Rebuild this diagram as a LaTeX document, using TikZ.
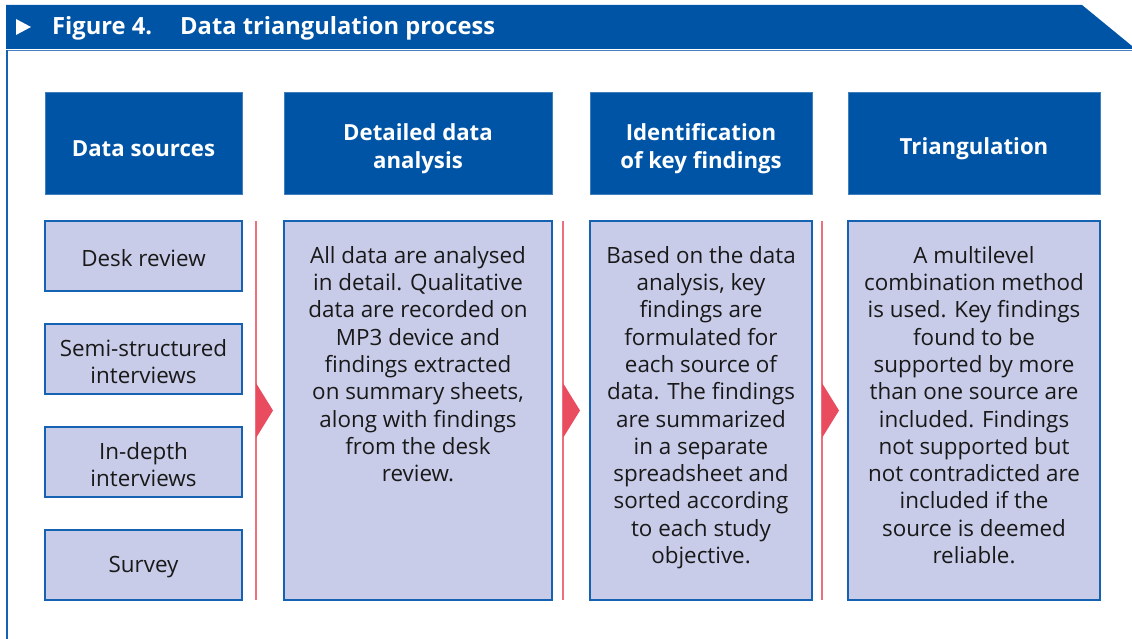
\documentclass[tikz,border=0pt]{standalone}
\usepackage{fontspec}
\setmainfont{Open Sans}
\usetikzlibrary{calc,positioning}
\definecolor{hdrblue}{RGB}{0,84,166}
\definecolor{lineblue}{RGB}{22,98,178}
\definecolor{boxfill}{RGB}{200,204,233}
\definecolor{stepred}{RGB}{232,76,94}

\begin{document}
\begin{tikzpicture}[
            x=1pt,
            y=-1pt,
            head/.style={fill=hdrblue, draw=hdrblue!75!white, line width=0.8pt, minimum height=102pt},
            headtext/.style={text=white, font=\fontsize{22.2}{28}\selectfont\bfseries, align=center, inner sep=0pt},
            box/.style={fill=boxfill, draw=lineblue, line width=1.6pt, inner sep=0pt},
            body/.style={font=\fontsize{22.4}{27.3}\selectfont, align=center, text=black!90, inner sep=0pt},
            title/.style={text=white, font=\fontsize{23.7}{26}\selectfont\bfseries, inner sep=0pt},
            divider/.style={draw=stepred!80!white, line width=1.2pt},
            marker/.style={fill=stepred},
        ]
        \useasboundingbox (0,0) rectangle (1132,639);
        % title band and frame
        \fill[hdrblue] (6,5) -- (1082,5) -- (1132,46) -- (1132,49) -- (6,49) -- cycle;
        \draw[lineblue!80!white, line width=1.5pt] (6,50.5) -- (1132,50.5);
        \draw[lineblue, line width=2pt] (7,50) -- (7,639);
        \fill[white] (16,19) -- (31,27) -- (16,35) -- cycle;
        \node[title, anchor=base west] (fignum) at (52,35) {Figure 4.};
        \node[title, anchor=base west] (figname) at (180,35) {Data triangulation process};
        % column heads
        \node[head, minimum width=197pt] (hsrc) at (143.5,143) {};
        \node[head, minimum width=268pt] (hana) at (418,143) {};
        \node[head, minimum width=222pt] (hkey) at (701,143) {};
        \node[head, minimum width=252pt] (htri) at (974,143) {};
        \node[headtext] (hsrctext) at ([yshift=-5.5pt]hsrc.center) {Data sources};
        \node[headtext] (hanatext) at ([yshift=-5.5pt]hana.center) {Detailed data\\analysis};
        \node[headtext] (hkeytext) at ([yshift=-5.5pt]hkey.center) {Identification\\of key findings};
        \node[headtext] (htritext) at ([yshift=-5.5pt]htri.center) {Triangulation};
        % data sources
        \foreach \n/\y/\t in {desk/256/{Desk review}, semi/359/{Semi-structured\\interviews},
                depth/462/{In-depth\\interviews}, survey/565/{Survey}} {
            \node[box, minimum width=197pt, minimum height=70pt] (\n) at (143.5,\y) {};
            \node[body] (\n text) at ([yshift=-2.5pt]\n.center) {\t};
        }
        % process boxes
        \node[box, minimum width=268pt, minimum height=379pt] (ana) at (418,410.5) {};
        \node[box, minimum width=222pt, minimum height=379pt] (key) at (701,410.5) {};
        \node[box, minimum width=252pt, minimum height=379pt] (tri) at (974,410.5) {};
        \node[body, anchor=north] (anatext) at (418,246) {All data are analysed\\in detail. Qualitative\\data are recorded on\\MP3 device and\\findings extracted\\on summary sheets,\\along with findings\\from the desk\\review.};
        \node[body, anchor=north] (keytext) at (701,246) {Based on the data\\analysis, key\\findings are\\formulated for\\each source of\\data. The findings\\are summarized\\in a separate\\spreadsheet and\\sorted according\\to each study\\objective.};
        \node[body, anchor=north] (tritext) at (974,246) {A multilevel\\combination method\\is used. Key findings\\found to be\\supported by more\\than one source are\\included. Findings\\not supported but\\not contradicted are\\included if the\\source is deemed\\reliable.};
        % dividers with step markers
        \foreach \x/\n in {256/1, 563/2, 822/3} {
            \coordinate (top\n) at (\x,221);
            \coordinate (bot\n) at (\x,600);
            \draw[divider] (top\n) -- (bot\n);
            \fill[marker] (\x,383) -- (\x+17,410.5) -- (\x,438) -- cycle;
        }
        \end{tikzpicture}
\end{document}
